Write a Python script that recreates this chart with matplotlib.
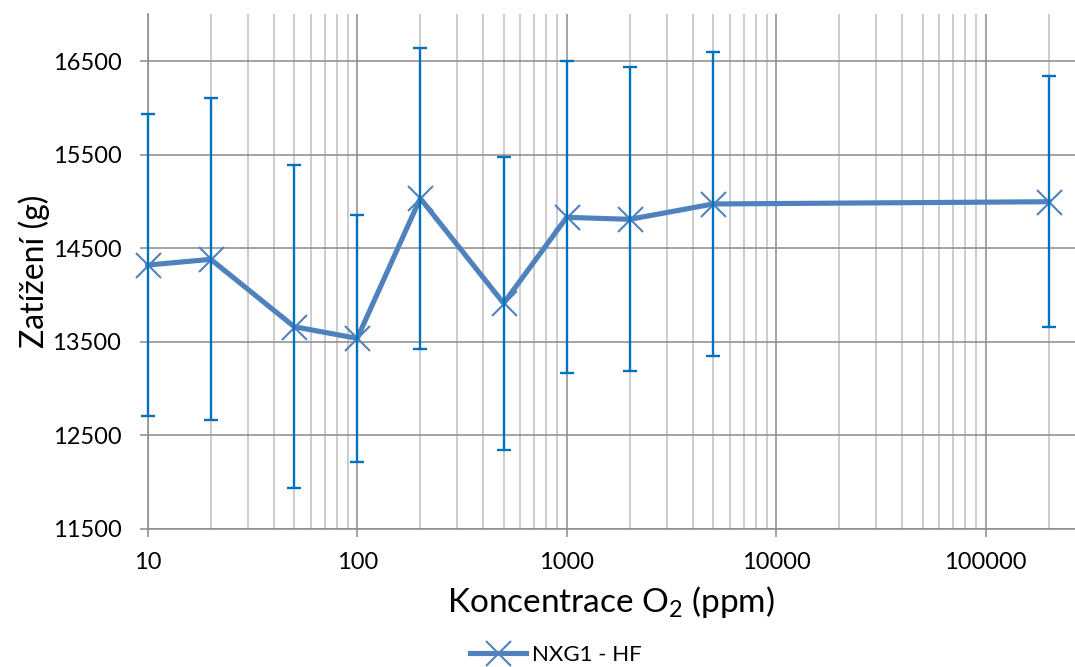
import matplotlib
matplotlib.use('Agg')
import matplotlib.pyplot as plt
from matplotlib.ticker import FixedLocator, LogLocator, NullFormatter
from matplotlib.lines import Line2D

# Hodnoty
koncentrace = [10, 20, 50, 100, 200, 500, 1000, 2000, 5000, 200000]
zatizeni = [14319, 14380, 13660, 13535, 15032, 13910, 14829, 14808, 14972, 14996]
chyba = [1613, 1720, 1725, 1318, 1610, 1565, 1668, 1627, 1623, 1340]

x_ticks = [10, 100, 1000, 10000, 100000]
x_labels = ['10', '100', '1000', '10000', '100000']
y_ticks = [11500, 12500, 13500, 14500, 15500, 16500]

plt.rcParams['font.family'] = ['Lato', 'DejaVu Sans']
plt.rcParams['mathtext.fontset'] = 'custom'
plt.rcParams['mathtext.rm'] = 'Lato'
plt.rcParams['mathtext.it'] = 'Lato'

W, H = 1075, 667
fig = plt.figure(figsize=(W / 100, H / 100), dpi=100)
ax = fig.add_axes([147.7 / W, 1 - 528.7 / H, 1 - 147.7 / W, (528.7 - 14.3) / H])

line_color = '#4F81BD'
err_color = '#0070C0'
grid_dark = '#8A8A8A'
grid_light = '#BFBFBF'

ax.plot(koncentrace, zatizeni, color=line_color, lw=3.7, marker='x',
        ms=18, mew=1.5, zorder=3, clip_on=False)
ax.errorbar(koncentrace, zatizeni, yerr=chyba, fmt='none', ecolor=err_color,
            elinewidth=1.7, capsize=4.7, capthick=1.7, zorder=4, clip_on=False)

ax.set_xscale('log')
ax.set_xlim(10, 10 ** (1 + (W - 147.7) / 209.5))
ax.set_ylim(11500, 17000)

ax.xaxis.set_major_locator(FixedLocator(x_ticks))
ax.set_xticklabels(x_labels)
ax.xaxis.set_minor_locator(LogLocator(base=10, subs=range(2, 10), numticks=20))
ax.xaxis.set_minor_formatter(NullFormatter())
ax.set_yticks(y_ticks)

ax.grid(True, which='major', axis='both', color=grid_dark, lw=1.1, zorder=0)
ax.grid(True, which='minor', axis='x', color=grid_light, lw=1.1, zorder=0)
ax.set_axisbelow(True)

for s in ['top', 'right']:
    ax.spines[s].set_visible(False)
for s in ['left', 'bottom']:
    ax.spines[s].set_color(grid_dark)
    ax.spines[s].set_linewidth(1.1)

ax.tick_params(axis='both', which='major', length=6, width=1.1, color=grid_dark,
               labelsize=17)
ax.tick_params(axis='y', which='major', pad=13)
ax.tick_params(axis='x', which='major', pad=11)
ax.tick_params(axis='x', which='minor', length=0)

ax.set_xlabel('Koncentrace O$_{2}$ (ppm)', fontsize=24, labelpad=8)
ax.set_ylabel('Zatížení (g)', fontsize=23, labelpad=2)

handle = Line2D([], [], color=line_color, lw=3.7, marker='x', ms=18, mew=1.5)
fig.legend([handle], ['NXG1 - HF'], loc='center', bbox_to_anchor=(556 / W, 1 - 655 / H),
           frameon=False, fontsize=16, handlelength=2.5, handletextpad=0.3)

fig.savefig('out.png', dpi=100)
